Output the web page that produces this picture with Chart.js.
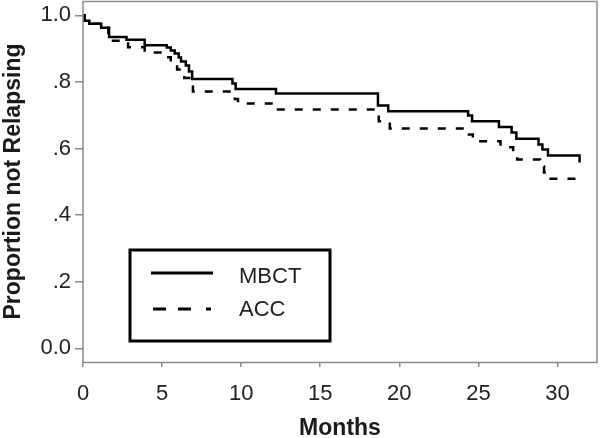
<!DOCTYPE html>
<html lang="en">
<head>
  <meta charset="UTF-8" />
  <title>Proportion not Relapsing</title>
  <script src="https://cdn.jsdelivr.net/npm/chart.js"></script>
  <style>
    body { margin: 0; background: #fff; }
  </style>
</head>
<body>
  <canvas id="kmChart" width="600" height="438"></canvas>

  <script>
    // Kaplan-Meier steps: month of drop, proportion after drop
    const mbctMonths = [0, 0.1, 0.4, 1.15, 1.65, 2.75, 3.9, 5.3, 5.55, 5.8, 6.05, 6.2, 6.5, 6.7, 6.9,
                        9.45, 9.65, 12.2, 18.65, 19.3, 24.35, 24.6, 26.3, 27.1, 27.4, 28.8, 29.05, 29.4, 31.4];
    const mbctSurv   = [1.0, 0.984, 0.975, 0.963, 0.935, 0.927, 0.910, 0.903, 0.894, 0.885, 0.873, 0.861, 0.849, 0.831, 0.809,
                        0.795, 0.779, 0.765, 0.729, 0.712, 0.699, 0.682, 0.665, 0.648, 0.629, 0.612, 0.597, 0.579, 0.558];

    const accMonths = [0, 0.1, 0.4, 1.15, 1.6, 2.85, 3.9, 5.3, 5.55, 5.75, 5.95, 6.1, 6.4, 6.8, 6.95,
                       9.6, 9.8, 12.2, 18.7, 19.4, 24.4, 24.65, 26.4, 27.2, 27.45, 28.9, 29.15, 29.4, 31.4];
    const accSurv   = [1.0, 0.984, 0.975, 0.963, 0.924, 0.904, 0.888, 0.874, 0.861, 0.852, 0.837, 0.827, 0.812, 0.792, 0.771,
                       0.749, 0.735, 0.717, 0.682, 0.660, 0.642, 0.622, 0.604, 0.588, 0.567, 0.546, 0.528, 0.509, 0.491];

    const seriesNames = ['MBCT', 'ACC'];
    const xTicks = [0, 5, 10, 15, 20, 25, 30];
    const yTicks = [0, 0.2, 0.4, 0.6, 0.8, 1.0];
    const yTickLabels = ['0.0', '.2', '.4', '.6', '.8', '1.0'];

    const frameGray = '#8a8a8a';
    const accDash = [8, 10];

    function toPoints(xs, ys) {
      return xs.map((x, i) => ({ x: x, y: ys[i] }));
    }

    // grey box round the plot area
    const framePlugin = {
      id: 'frame',
      afterDraw(chart) {
        const a = chart.chartArea;
        const ctx = chart.ctx;
        ctx.save();
        ctx.strokeStyle = frameGray;
        ctx.lineWidth = 1.5;
        ctx.strokeRect(a.left, a.top + 0.5, a.right - a.left, a.bottom - a.top);
        ctx.restore();
      }
    };

    // boxed legend in the lower left of the plot
    const legendBox = {
      id: 'legendBox',
      afterDraw(chart) {
        const ctx = chart.ctx;
        ctx.save();
        ctx.strokeStyle = '#000';
        ctx.lineWidth = 3;
        ctx.strokeRect(130, 250, 200, 91);

        ctx.beginPath();
        ctx.moveTo(151, 273);
        ctx.lineTo(213, 273);
        ctx.stroke();

        ctx.setLineDash([13, 12, 13, 15, 5, 100]);
        ctx.beginPath();
        ctx.moveTo(153, 309);
        ctx.lineTo(213, 309);
        ctx.stroke();
        ctx.setLineDash([]);

        ctx.fillStyle = '#222';
        ctx.font = '22px "Liberation Sans", Arial, sans-serif';
        ctx.textBaseline = 'middle';
        ctx.fillText(seriesNames[0], 239, 277);
        ctx.fillText(seriesNames[1], 239, 310);
        ctx.restore();
      }
    };

    const ctx = document.getElementById('kmChart').getContext('2d');
    new Chart(ctx, {
      type: 'line',
      data: {
        datasets: [
          {
            label: seriesNames[0],
            data: toPoints(mbctMonths, mbctSurv),
            borderColor: '#000',
            borderWidth: 2.5,
            stepped: 'before',
            pointRadius: 0,
            fill: false
          },
          {
            label: seriesNames[1],
            data: toPoints(accMonths, accSurv),
            borderColor: '#000',
            borderWidth: 2.5,
            borderDash: accDash,
            stepped: 'before',
            pointRadius: 0,
            fill: false
          }
        ]
      },
      options: {
        responsive: false,
        devicePixelRatio: 1,
        animation: false,
        layout: { padding: { top: 1, right: 3, left: 0, bottom: 0 } },
        plugins: {
          legend: { display: false },
          tooltip: { enabled: false }
        },
        scales: {
          x: {
            type: 'linear',
            min: 0,
            max: 32.5,
            afterFit: (s) => { s.height = 76; s.paddingLeft = 0; s.paddingRight = 0; },
            afterBuildTicks: (s) => { s.ticks = xTicks.map(v => ({ value: v })); },
            border: { display: false },
            grid: { drawOnChartArea: false, drawTicks: true, tickLength: 5, tickColor: frameGray, lineWidth: 1.5 },
            ticks: {
              color: '#222',
              padding: 14,
              font: { family: '"Liberation Sans", Arial, sans-serif', size: 22 }
            },
            title: {
              display: true,
              text: 'Months',
              color: '#1a1a1a',
              padding: { top: 0, bottom: -2 },
              font: { family: '"Liberation Sans", Arial, sans-serif', size: 23, weight: 'bold', lineHeight: 1 }
            }
          },
          y: {
            type: 'linear',
            min: -0.041,
            max: 1.043,
            afterFit: (s) => { s.width = 83; s.paddingTop = 0; s.paddingBottom = 0; },
            afterBuildTicks: (s) => { s.ticks = yTicks.map(v => ({ value: v })); },
            border: { display: false },
            grid: { drawOnChartArea: false, drawTicks: true, tickLength: 8, tickColor: frameGray, lineWidth: 1.5 },
            ticks: {
              color: '#222',
              padding: 4,
              font: { family: '"Liberation Sans", Arial, sans-serif', size: 22 },
              callback: (value) => {
                const i = yTicks.findIndex(t => Math.abs(t - value) < 1e-6);
                return i >= 0 ? yTickLabels[i] : '';
              }
            },
            title: {
              display: true,
              text: 'Proportion not Relapsing',
              color: '#1a1a1a',
              padding: { top: 0, bottom: 0 },
              font: { family: '"Liberation Sans", Arial, sans-serif', size: 23, weight: 'bold' }
            }
          }
        }
      },
      plugins: [framePlugin, legendBox]
    });
  </script>
</body>
</html>
